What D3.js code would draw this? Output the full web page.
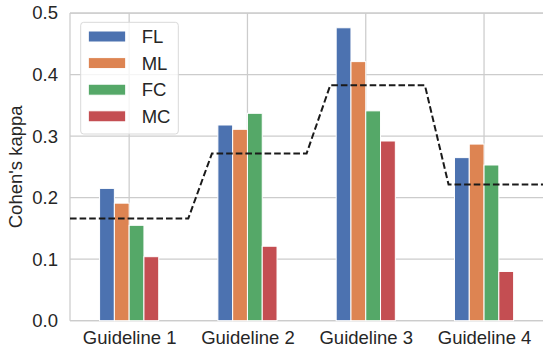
<!DOCTYPE html>
<html>
<head>
<meta charset="utf-8">
<script src="https://cdn.jsdelivr.net/npm/d3@7"></script>
<style>
  html, body { margin: 0; padding: 0; background: #fff; }
  svg { display: block; font-family: "Liberation Sans", Arial, sans-serif; }
</style>
</head>
<body>
<svg id="chart" width="543" height="351"></svg>
<script>
// Agreement (Cohen's kappa) per guideline and annotation setting
const categories = ["Guideline 1", "Guideline 2", "Guideline 3", "Guideline 4"];
const seriesNames = ["FL", "ML", "FC", "MC"];
const FL = [0.215, 0.318, 0.476, 0.265];
const ML = [0.191, 0.311, 0.421, 0.287];
const FC = [0.155, 0.337, 0.341, 0.253];
const MC = [0.104, 0.121, 0.292, 0.080];
const yTicks = [0.0, 0.1, 0.2, 0.3, 0.4, 0.5];
const colors = ["#4C72B0", "#DD8452", "#55A868", "#C44E52"];

const seriesValues = [FL, ML, FC, MC];

const svg = d3.select("#chart");
const margin = { left: 70, right: 0, top: 13, bottom: 30.3 };
const W = 543.2, H = 351;
const plotLeft = margin.left, plotRight = W - margin.right;
const plotTop = margin.top, plotBottom = H - margin.bottom;

const x = d3.scaleLinear().domain([-0.5, categories.length - 0.5]).range([plotLeft, plotRight]);
const y = d3.scaleLinear().domain([0, 0.5]).range([plotBottom, plotTop]);

const textColor = "#262626";
const gridColor = "#cccccc";

// grid
const grid = svg.append("g");
grid.selectAll("line.h").data(yTicks).join("line")
  .attr("x1", plotLeft).attr("x2", plotRight)
  .attr("y1", d => y(d)).attr("y2", d => y(d))
  .attr("stroke", gridColor).attr("stroke-width", 1.25);
grid.selectAll("line.v").data(categories.map((c, i) => i)).join("line")
  .attr("y1", plotTop).attr("y2", plotBottom)
  .attr("x1", d => x(d)).attr("x2", d => x(d))
  .attr("stroke", gridColor).attr("stroke-width", 1.25);

// spines
const frame = svg.append("g").attr("fill", "none").attr("stroke", gridColor).attr("stroke-width", 1.25);
frame.append("line").attr("x1", plotLeft).attr("x2", plotLeft).attr("y1", plotTop).attr("y2", plotBottom);
frame.append("line").attr("x1", plotLeft).attr("x2", plotRight).attr("y1", plotBottom).attr("y2", plotBottom);
frame.append("line").attr("x1", plotLeft).attr("x2", plotRight).attr("y1", plotTop).attr("y2", plotTop);

// bars
const barW = 0.125;
const nS = seriesNames.length;
const bars = [];
seriesValues.forEach((vals, j) => {
  vals.forEach((v, i) => {
    bars.push({ i, j, v, cx: i + (j - (nS - 1) / 2) * barW });
  });
});
svg.append("g").selectAll("rect").data(bars).join("rect")
  .attr("x", d => x(d.cx - barW / 2))
  .attr("width", d => x(d.cx + barW / 2) - x(d.cx - barW / 2))
  .attr("y", d => y(d.v))
  .attr("height", d => y(0) - y(d.v))
  .attr("fill", d => colors[d.j])
  .attr("stroke", "#ffffff").attr("stroke-width", 1);

// mean per guideline as a dashed step line
const means = categories.map((c, i) => d3.mean(seriesValues, s => s[i]));
const stepPts = [];
means.forEach((m, i) => {
  const x0 = i === 0 ? x.domain()[0] : i - 0.3;
  const x1 = i === means.length - 1 ? x.domain()[1] : i + 0.5;
  stepPts.push([x0, m], [x1, m]);
});
svg.append("path")
  .datum(stepPts)
  .attr("d", d3.line().x(d => x(d[0])).y(d => y(d[1])))
  .attr("fill", "none").attr("stroke", "#1a1a1a")
  .attr("stroke-width", 2).attr("stroke-dasharray", "6.6,3");

// y axis ticks
const yAxis = svg.append("g").attr("transform", `translate(${plotLeft},0)`)
  .call(d3.axisLeft(y).tickValues(yTicks).tickFormat(d3.format(".1f")).tickSize(0).tickPadding(12));
yAxis.select(".domain").remove();
yAxis.selectAll("text").attr("font-size", 18.5).attr("fill", textColor)
  .attr("font-family", "Liberation Sans, Arial, sans-serif");

// x axis ticks
const xAxis = svg.append("g").attr("transform", `translate(0,${plotBottom})`)
  .call(d3.axisBottom(x).tickValues(categories.map((c, i) => i)).tickFormat(i => categories[i]).tickSize(0).tickPadding(10));
xAxis.select(".domain").remove();
xAxis.selectAll("text").attr("font-size", 18.5).attr("fill", textColor)
  .attr("font-family", "Liberation Sans, Arial, sans-serif");

// y label
svg.append("text")
  .attr("transform", `translate(21.7,${(plotTop + plotBottom) / 2}) rotate(-90)`)
  .attr("text-anchor", "middle")
  .attr("font-size", 18.5).attr("fill", textColor)
  .text("Cohen's kappa");

// legend
const lg = svg.append("g");
lg.append("rect")
  .attr("x", 80.7).attr("y", 22.3).attr("width", 97.6).attr("height", 111.7)
  .attr("rx", 3).attr("fill", "#ffffff").attr("fill-opacity", 0.8)
  .attr("stroke", "#d9d9d9").attr("stroke-width", 1);
const rowY = d3.scaleLinear().domain([0, 1]).range([36.5, 63.1]);
const items = lg.selectAll("g.item").data(seriesNames).join("g")
  .attr("transform", (d, j) => `translate(0,${rowY(j)})`);
items.append("rect")
  .attr("x", 88.3).attr("y", -5.5).attr("width", 37.4).attr("height", 11)
  .attr("fill", (d, j) => colors[j]).attr("stroke", "#ffffff").attr("stroke-width", 1);
items.append("text")
  .attr("x", 141.7).attr("dy", "0.35em")
  .attr("font-size", 18.5).attr("fill", textColor)
  .text(d => d);
</script>
</body>
</html>
